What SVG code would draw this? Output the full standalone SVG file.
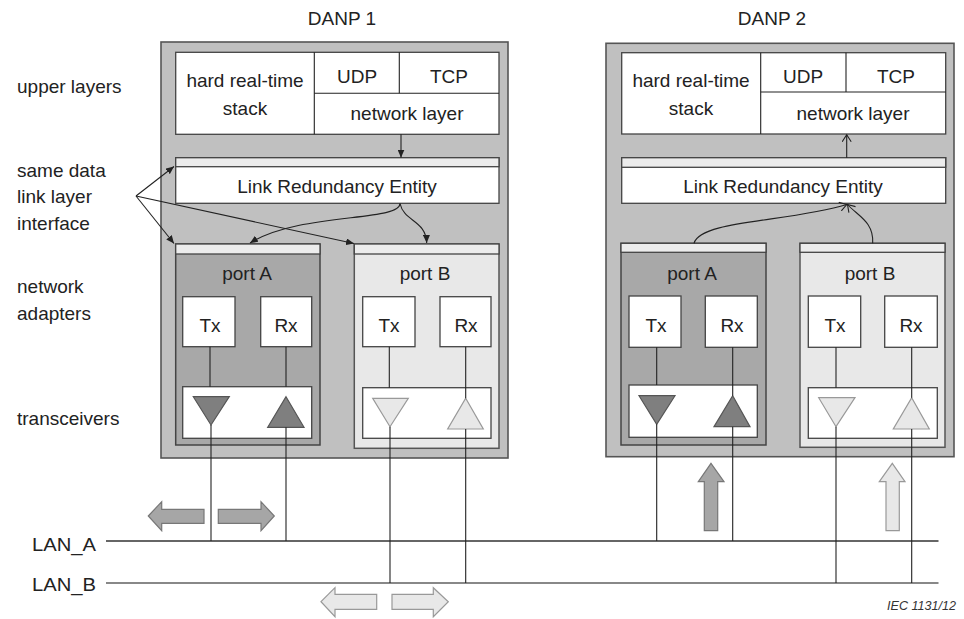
<svg xmlns="http://www.w3.org/2000/svg" width="964" height="619" viewBox="0 0 964 619">
  <style>
    text { font-family: "Liberation Sans", Arial, sans-serif; font-size: 19px; fill: #222; }
    .c { text-anchor: middle; }
    .note { font-size: 13px; font-style: italic; fill: #333; }
    .danp { fill: #c0c0c0; stroke: #555; stroke-width: 1.6; }
    .box { fill: #fff; stroke: #444; stroke-width: 1.3; }
    .portA { fill: #a8a8a8; stroke: #444; stroke-width: 1.5; }
    .portB { fill: #e8e8e8; stroke: #555; stroke-width: 1.5; }
    .strip { fill: #ececec; stroke: #444; stroke-width: 1.3; }
    .wire { stroke: #222; stroke-width: 1.1; fill: none; }
    .triA { fill: #7f7f7f; stroke: #555; stroke-width: 1.2; }
    .triB { fill: #e8e8e8; stroke: #999; stroke-width: 1.2; }
    .blkA { fill: #a6a6a6; stroke: #777; stroke-width: 1.2; }
    .blkB { fill: #e8e8e8; stroke: #999; stroke-width: 1.2; }
    .conn { stroke: #222; stroke-width: 1.1; fill: none; }
  </style>
  <defs>
    <marker id="solid" markerUnits="userSpaceOnUse" markerWidth="9" markerHeight="7" refX="8" refY="3.5" orient="auto">
      <path d="M0,0 L8,3.5 L0,7 z" fill="#222"/>
    </marker>
    <marker id="open" markerUnits="userSpaceOnUse" markerWidth="10" markerHeight="10" refX="8" refY="5" orient="auto">
      <path d="M1,0.5 L8,5 L1,9.5" fill="none" stroke="#222" stroke-width="1.1"/>
    </marker>
  </defs>

  <!-- layer labels on the left -->
  <g id="labels">
    <text x="17" y="93">upper layers</text>
    <text x="17" y="177">same data</text>
    <text x="17" y="203">link layer</text>
    <text x="17" y="230">interface</text>
    <text x="17" y="293">network</text>
    <text x="17" y="320">adapters</text>
    <text x="17" y="425">transceivers</text>
    <text x="342" y="25" class="c">DANP 1</text>
    <text x="772" y="25" class="c">DANP 2</text>
  </g>

  <!-- node 1 -->
  <g id="danp1">
    <rect class="danp" x="161" y="42" width="347" height="416"/>
    <g id="danp1-upper">
      <rect class="box" x="175.7" y="52.3" width="323.3" height="82"/>
      <line class="wire" x1="314.3" y1="52.3" x2="314.3" y2="134.3"/>
      <line class="wire" x1="314.3" y1="93.3" x2="499" y2="93.3"/>
      <line class="wire" x1="399.3" y1="52.3" x2="399.3" y2="93.3"/>
      <text x="245" y="87" class="c">hard real-time</text>
      <text x="245" y="115" class="c">stack</text>
      <text x="357" y="83" class="c">UDP</text>
      <text x="449" y="83" class="c">TCP</text>
      <text x="407" y="120" class="c">network layer</text>
    </g>
    <g id="danp1-lre">
      <rect class="box" x="175.7" y="157.7" width="323.3" height="45.6"/>
      <rect class="strip" x="175.7" y="157.7" width="323.3" height="9"/>
      <text x="337" y="193" class="c">Link Redundancy Entity</text>
    </g>
    <g id="danp1-portA">
      <rect class="portA" x="175.7" y="244" width="144.3" height="201"/>
      <rect class="strip" x="175.7" y="244" width="144.3" height="10"/>
      <text x="247" y="280" class="c">port A</text>
      <rect class="box" x="182.7" y="296.7" width="52.3" height="50"/>
      <rect class="box" x="260.7" y="296.7" width="51" height="50"/>
      <text x="210" y="332" class="c">Tx</text>
      <text x="286" y="332" class="c">Rx</text>
      <rect class="box" x="182.7" y="386.7" width="129" height="51.6"/>
      <polygon class="triA" points="193.3,396.7 229.3,396.7 211,425"/>
      <polygon class="triA" points="286,396.7 304,427.3 267.7,427.3"/>
    </g>
    <g id="danp1-portB">
      <rect class="portB" x="354.3" y="244" width="144.7" height="204.3"/>
      <rect class="strip" x="354.3" y="244" width="144.7" height="10"/>
      <text x="425" y="280" class="c">port B</text>
      <rect class="box" x="362.7" y="296.7" width="52.3" height="50"/>
      <rect class="box" x="440" y="296.7" width="51" height="50"/>
      <text x="389" y="332" class="c">Tx</text>
      <text x="466" y="332" class="c">Rx</text>
      <rect class="box" x="362.7" y="387.7" width="128.3" height="50.6"/>
      <polygon class="triB" points="372.7,398.3 408.3,398.3 390,426.7"/>
      <polygon class="triB" points="465.7,398.3 483.3,429 447.7,429"/>
    </g>
  </g>

  <!-- node 2 -->
  <g id="danp2">
    <rect class="danp" x="606" y="43.3" width="348" height="413.4"/>
    <g id="danp2-upper">
      <rect class="box" x="621.7" y="52.7" width="324" height="81.3"/>
      <line class="wire" x1="760.7" y1="52.7" x2="760.7" y2="134"/>
      <line class="wire" x1="760.7" y1="92" x2="945.7" y2="92"/>
      <line class="wire" x1="846" y1="52.7" x2="846" y2="92"/>
      <text x="691" y="87" class="c">hard real-time</text>
      <text x="691" y="115" class="c">stack</text>
      <text x="803" y="83" class="c">UDP</text>
      <text x="896" y="83" class="c">TCP</text>
      <text x="853" y="120" class="c">network layer</text>
    </g>
    <g id="danp2-lre">
      <rect class="box" x="621.7" y="157.7" width="324" height="45.6"/>
      <rect class="strip" x="621.7" y="157.7" width="324" height="9.6"/>
      <text x="783" y="193" class="c">Link Redundancy Entity</text>
    </g>
    <g id="danp2-portA">
      <rect class="portA" x="621" y="243.3" width="145" height="201.7"/>
      <rect class="strip" x="621" y="243.3" width="145" height="9"/>
      <text x="692" y="280" class="c">port A</text>
      <rect class="box" x="629" y="296" width="52" height="51.3"/>
      <rect class="box" x="705.3" y="296" width="52" height="51.3"/>
      <text x="656" y="332" class="c">Tx</text>
      <text x="732" y="332" class="c">Rx</text>
      <rect class="box" x="629" y="385" width="128.3" height="52.3"/>
      <polygon class="triA" points="639,395.7 675,395.7 656.7,424.3"/>
      <polygon class="triA" points="732.7,395.7 750,426.7 714,426.7"/>
    </g>
    <g id="danp2-portB">
      <rect class="portB" x="800" y="243.3" width="145" height="204"/>
      <rect class="strip" x="800" y="243.3" width="145" height="9"/>
      <text x="870" y="280" class="c">port B</text>
      <rect class="box" x="808.3" y="296" width="52.4" height="51.3"/>
      <rect class="box" x="884.7" y="296" width="52.6" height="51.3"/>
      <text x="835" y="332" class="c">Tx</text>
      <text x="911" y="332" class="c">Rx</text>
      <rect class="box" x="808.3" y="387.7" width="129" height="50.6"/>
      <polygon class="triB" points="818.7,397.7 855,397.7 836,426.7"/>
      <polygon class="triB" points="911.7,397.7 929.3,429 893.3,429"/>
    </g>
  </g>

  <!-- LAN segments -->
  <g id="lans">
    <line x1="106" y1="541" x2="938.5" y2="541" stroke="#333" stroke-width="1.4"/>
    <line x1="106" y1="583" x2="938.5" y2="583" stroke="#888" stroke-width="2.2"/>
    <text x="32" y="551" textLength="64" lengthAdjust="spacingAndGlyphs">LAN_A</text>
    <text x="32" y="591" textLength="64" lengthAdjust="spacingAndGlyphs">LAN_B</text>
  </g>

  <!-- connectors -->
  <g id="connectors">
    <!-- node 1: adapter wiring -->
    <line class="wire" x1="210" y1="346.7" x2="210" y2="386.7"/>
    <line class="wire" x1="211" y1="425" x2="211" y2="541"/>
    <line class="wire" x1="286" y1="346.7" x2="286" y2="386.7"/>
    <line class="wire" x1="286" y1="427.3" x2="286" y2="541"/>
    <line class="wire" x1="389.3" y1="346.7" x2="389.3" y2="387.7"/>
    <line class="wire" x1="390" y1="426.7" x2="390" y2="583"/>
    <line class="wire" x1="465.7" y1="346.7" x2="465.7" y2="398.3"/>
    <line class="wire" x1="465.7" y1="429" x2="465.7" y2="583"/>
    <!-- node 2: adapter wiring -->
    <line class="wire" x1="656.7" y1="347.3" x2="656.7" y2="385"/>
    <line class="wire" x1="656.7" y1="424.3" x2="656.7" y2="541"/>
    <line class="wire" x1="732.7" y1="347.3" x2="732.7" y2="395.7"/>
    <line class="wire" x1="732.7" y1="426.7" x2="732.7" y2="541"/>
    <line class="wire" x1="836" y1="347.3" x2="836" y2="387.7"/>
    <line class="wire" x1="836" y1="426.7" x2="836" y2="583"/>
    <line class="wire" x1="911.7" y1="347.3" x2="911.7" y2="397.7"/>
    <line class="wire" x1="911.7" y1="429" x2="911.7" y2="583"/>

    <!-- node 1: send path -->
    <line class="conn" x1="401" y1="134.3" x2="401" y2="157.5" marker-end="url(#solid)"/>
    <path class="conn" d="M400,203.5 C400,222 300,212 250,243" marker-end="url(#solid)"/>
    <path class="conn" d="M400,203.5 C404,222 426,220 426.7,243" marker-end="url(#solid)"/>
    <!-- interface callout -->
    <line class="conn" x1="136" y1="196" x2="174" y2="166.5" marker-end="url(#solid)"/>
    <line class="conn" x1="136" y1="196" x2="174" y2="243.5" marker-end="url(#solid)"/>
    <line class="conn" x1="136" y1="196" x2="354" y2="243.5" marker-end="url(#solid)"/>

    <!-- node 2: receive path -->
    <line class="conn" x1="846.7" y1="157.7" x2="846.7" y2="134.8" marker-end="url(#open)"/>
    <path class="conn" d="M694,243.3 C700,220 790,222 846.7,204.5" marker-end="url(#open)"/>
    <path class="conn" d="M872.7,243.3 C874,222 858,216 847.5,204.5" marker-end="url(#open)"/>
  </g>

  <!-- traffic direction arrows -->
  <g id="flow">
    <polygon class="blkA" points="148.3,516 161.7,501.7 161.7,509.3 204,509.3 204,523.3 161.7,523.3 161.7,530.7"/>
    <polygon class="blkA" points="218.3,509.3 261,509.3 261,501.7 274.3,516 261,530.7 261,523.3 218.3,523.3"/>
    <polygon class="blkB" points="321,601.7 335,587.7 335,594.3 376.7,594.3 376.7,609.3 335,609.3 335,616.7"/>
    <polygon class="blkB" points="392,594.3 433.3,594.3 433.3,587.7 448.3,601.7 433.3,616.7 433.3,609.3 392,609.3"/>
    <polygon class="blkA" points="711,463.3 724,481.7 717.7,481.7 717.7,530.7 704.3,530.7 704.3,481.7 698.3,481.7"/>
    <polygon class="blkB" points="892.3,463.3 905,481.7 899.3,481.7 899.3,530.7 886,530.7 886,481.7 879.3,481.7"/>
  </g>

  <text class="note" x="887" y="610" textLength="69" lengthAdjust="spacingAndGlyphs">IEC  1131/12</text>
</svg>
